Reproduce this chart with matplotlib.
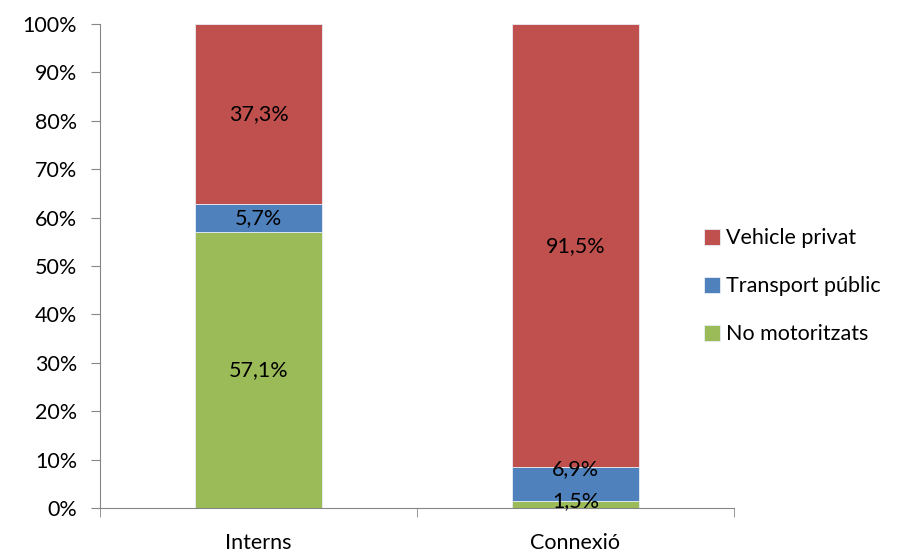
import numpy as np
import matplotlib.pyplot as plt

plt.rcParams['font.family'] = ['Lato', 'DejaVu Sans']

categories = ['Interns', 'Connexió']
no_motoritzats = [57.1, 1.5]
transport_public = [5.7, 6.9]
vehicle_privat = [37.3, 91.5]

series = [('No motoritzats', no_motoritzats, '#9bbb59'),
          ('Transport públic', transport_public, '#4f81bd'),
          ('Vehicle privat', vehicle_privat, '#c0504d')]

fs = 15.5

fig = plt.figure(figsize=(9.05, 5.53), dpi=100)
ax = fig.add_axes([0.1105, 0.0814, 0.7005, 0.8752])

x = np.arange(len(categories))
bottom = np.zeros(len(categories))
labels = {}
for name, vals, col in series:
    vals = np.array(vals)
    bars = ax.bar(x, vals, 0.4, bottom=bottom, color=col, label=name,
                  edgecolor='#e8eef4', linewidth=0.6)
    labels[name] = ax.bar_label(bars, labels=[f'{v:.1f}%'.replace('.', ',') for v in vals],
                                label_type='center', fontsize=fs)
    bottom += vals

# small segments of the second bar: labels pushed apart like Excel does
labels['Transport públic'][1].xyann = (0, 11)
labels['No motoritzats'][1].xyann = (0, 2)

ax.set_xlim(-0.5, 1.5)
ax.set_ylim(0, 100)
ax.set_yticks(np.arange(0, 101, 10))
ax.set_yticklabels([f'{v}%' for v in range(0, 101, 10)], fontsize=fs)
ax.set_xticks(x)
ax.set_xticklabels(categories, fontsize=fs)
ax.tick_params(axis='x', length=0, pad=18)
ax.set_xticks([-0.5, 0.5, 1.5], minor=True)
ax.tick_params(axis='x', which='minor', length=6.5, color='#868686', direction='out')
ax.tick_params(axis='y', length=6.5, color='#868686', pad=10)

for s in ['top', 'right']:
    ax.spines[s].set_visible(False)
for s in ['left', 'bottom']:
    ax.spines[s].set_color('#868686')

h, l = ax.get_legend_handles_labels()
ax.legend(h[::-1], l[::-1], loc='center left', bbox_to_anchor=(0.952, 0.458),
          frameon=False, fontsize=fs, handlelength=0.75, handleheight=0.75,
          handletextpad=0.3, labelspacing=1.3, borderaxespad=0, borderpad=0)

fig.savefig('out.png', dpi=100)
